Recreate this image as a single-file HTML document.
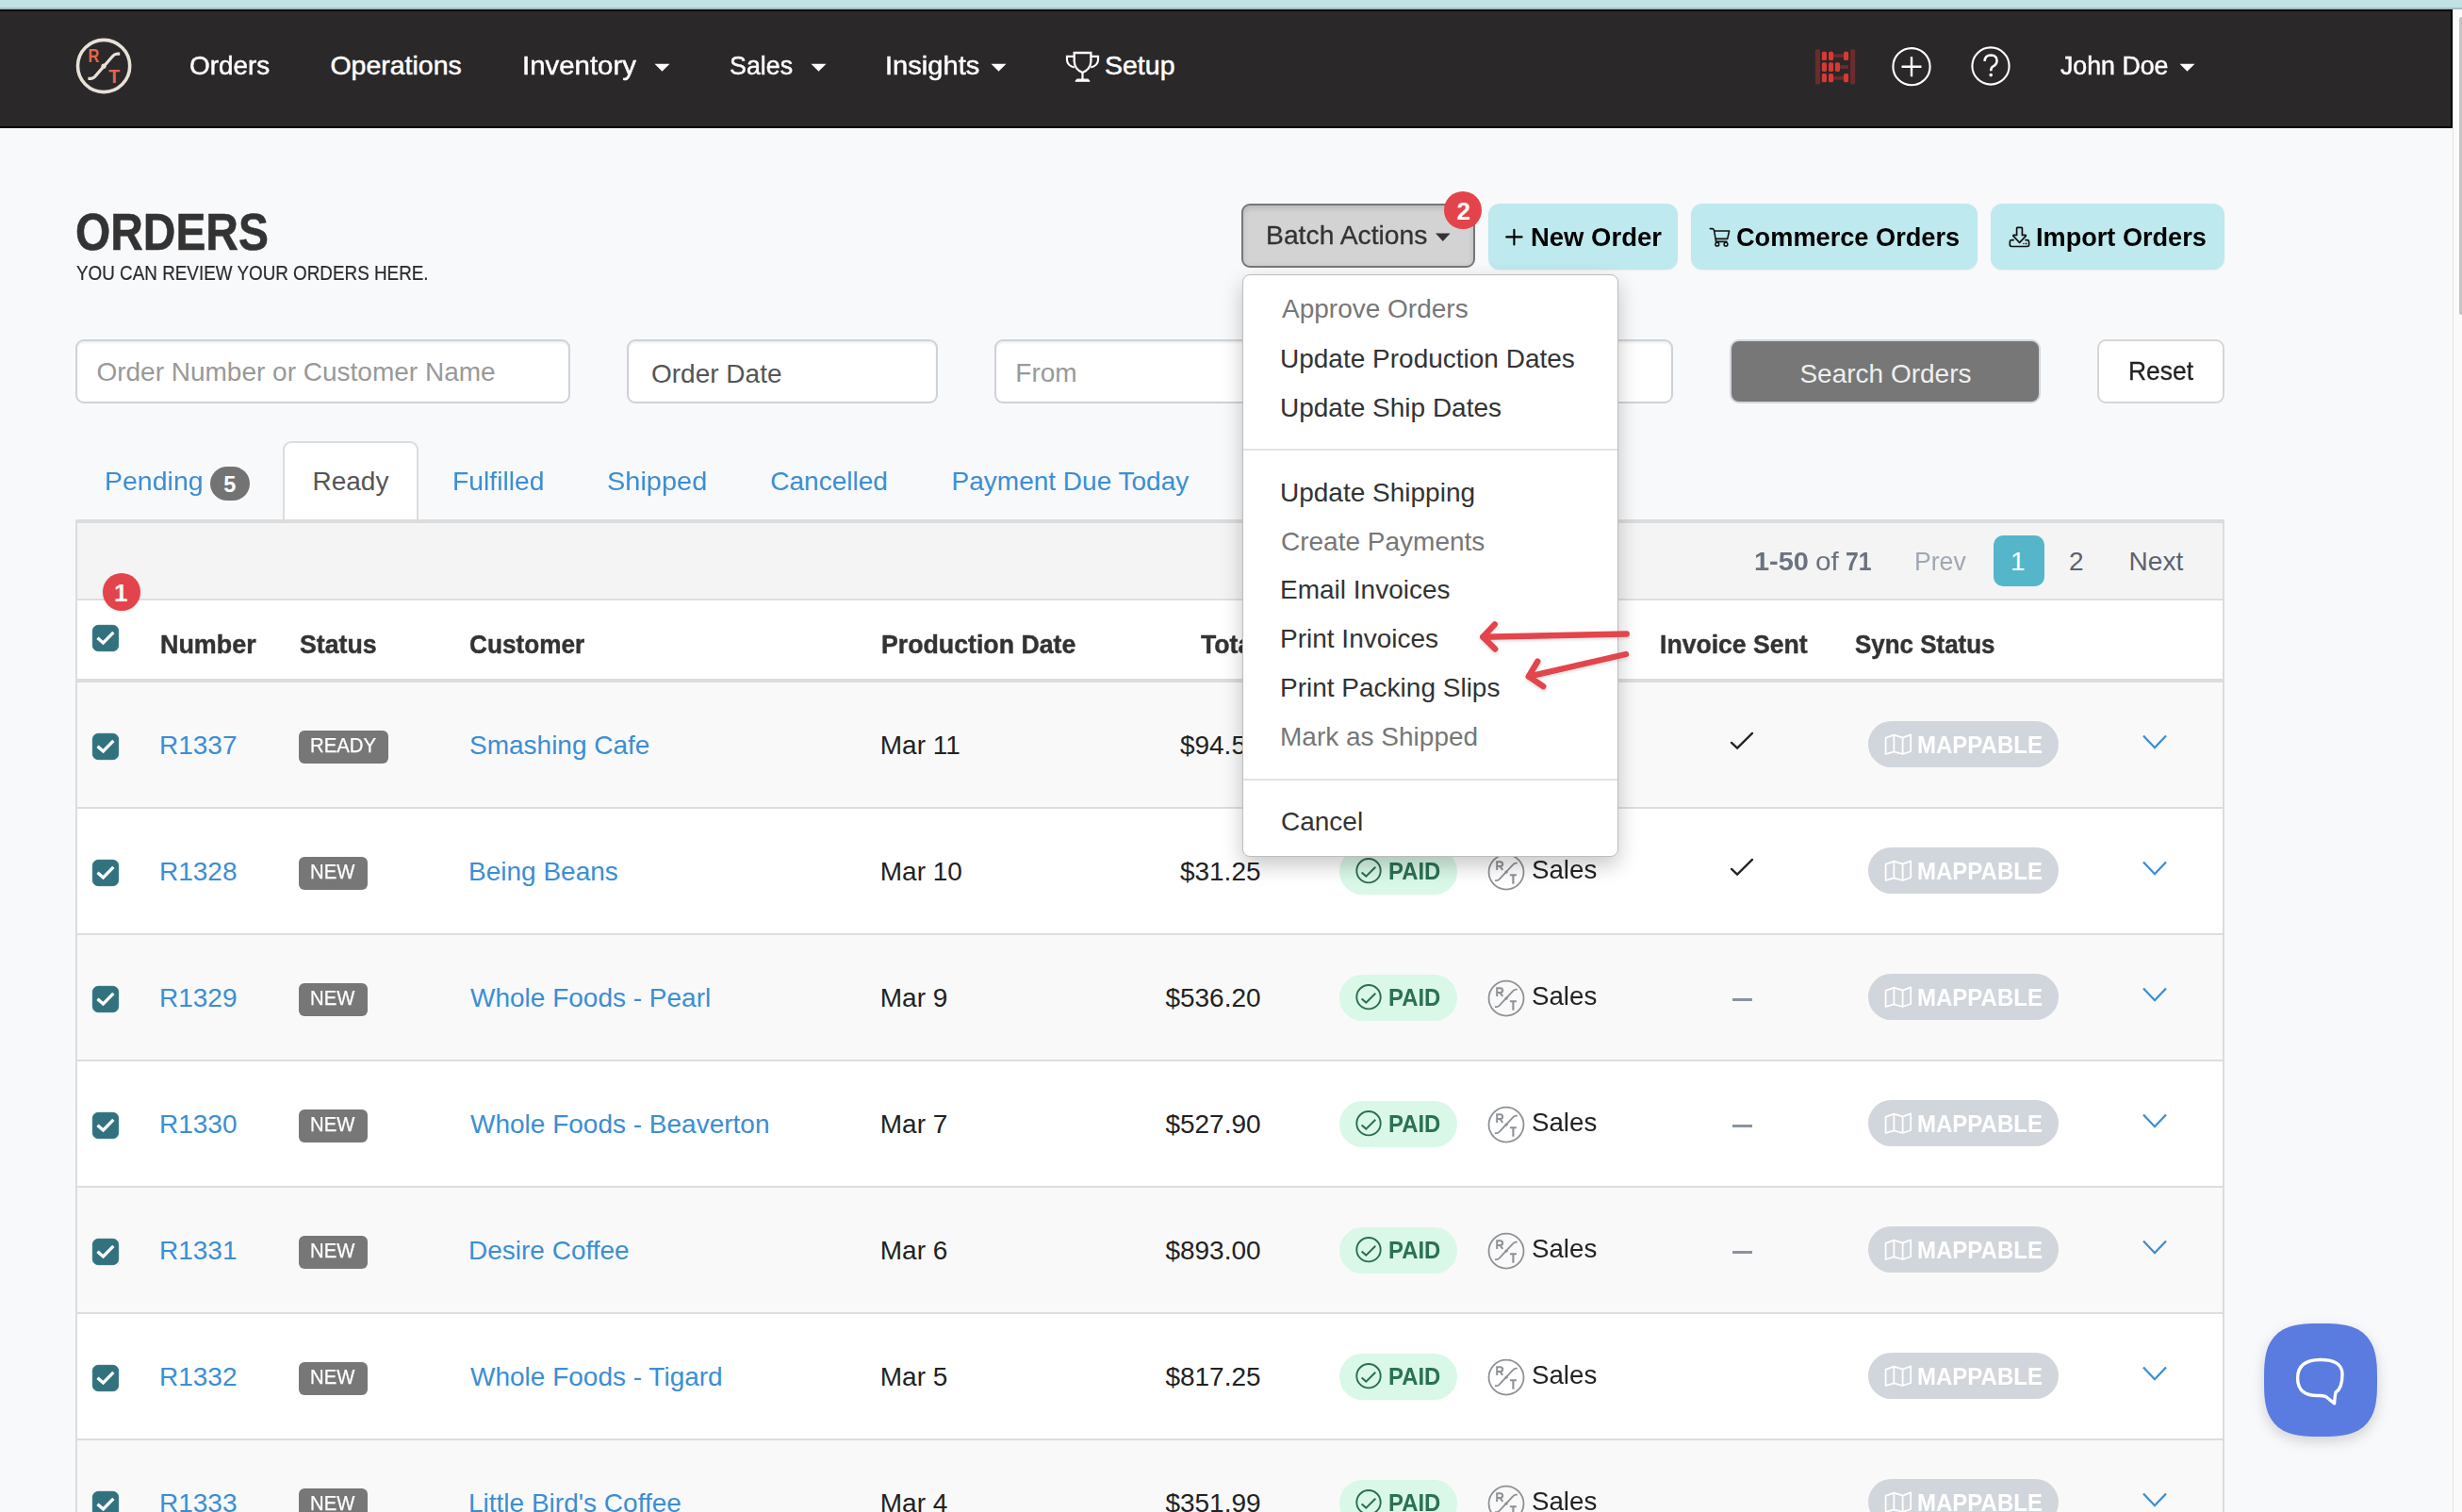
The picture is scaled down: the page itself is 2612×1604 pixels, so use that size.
<!DOCTYPE html>
<html><head><meta charset="utf-8"><title>Orders</title>
<style>
html,body{margin:0;padding:0;}
body{width:2612px;height:1604px;overflow:hidden;position:relative;background:#f8f9fb;font-family:"Liberation Sans",sans-serif;}
.t{position:absolute;white-space:nowrap;line-height:1;font-family:"Liberation Sans",sans-serif;}
.a{position:absolute;box-sizing:border-box;}
</style></head><body>
<div class="a" style="left:0;top:0;width:2612px;height:10px;background:#c1e2e5;border-bottom:2px solid #a3bbbe;"></div>
<div class="a" style="left:0;top:10px;width:2602px;height:126px;background:#2a2829;border-top:2px solid #050505;border-bottom:2px solid #050505;border-right:2px solid #050505;"></div>
<div class="a" style="left:2602px;top:10px;width:10px;height:1594px;background:#fafafa;border-left:1px solid #e2e2e2;"></div>
<div class="a" style="left:2609px;top:18px;width:5px;height:316px;background:#c3c3c3;border-radius:3px;"></div>
<svg class="a" style="left:78px;top:38px" width="64" height="64" viewBox="78 38 64 64">
      <circle cx="110.1" cy="70" r="27.6" fill="none" stroke="#e7e1d7" stroke-width="3.6"/>
      <path d="M93.4 83.3 H96.6 Q98.8 83.3 100.6 81.4 L119.4 59.8 Q121.4 57.4 124.2 57.2 H127.2" fill="none" stroke="#e7e1d7" stroke-width="3.2" stroke-linecap="butt"/>
      <circle cx="110" cy="70.2" r="2.6" fill="#e7e1d7"/>
      <text x="0" y="0" transform="translate(93.6 66) scale(0.84 1)" font-family="Liberation Sans" font-weight="700" font-size="19.5" fill="#e0674c">R</text>
      <text x="115.2" y="87.8" font-family="Liberation Sans" font-weight="700" font-size="19.5" fill="#e0674c">T</text>
    </svg>
<svg class="a" style="left:694px;top:67px" width="17" height="10" viewBox="0 0 17 10"><path d="M0.5 0.8 H16.5 L8.5 8.8 Z" fill="#fff"/></svg>
<svg class="a" style="left:860px;top:67px" width="17" height="10" viewBox="0 0 17 10"><path d="M0.5 0.8 H16.5 L8.5 8.8 Z" fill="#fff"/></svg>
<svg class="a" style="left:1051px;top:67px" width="17" height="10" viewBox="0 0 17 10"><path d="M0.5 0.8 H16.5 L8.5 8.8 Z" fill="#fff"/></svg>
<svg class="a" style="left:2311.5px;top:67px" width="17" height="10" viewBox="0 0 17 10"><path d="M0.5 0.8 H16.5 L8.5 8.8 Z" fill="#fff"/></svg>
<svg class="a" style="left:1128px;top:52px" width="40" height="38" viewBox="1128 52 40 38">
      <path d="M1139.7 56 H1157.4 V65 Q1157 73.5 1148.5 77 Q1140 73.5 1139.7 65 Z" fill="none" stroke="#fff" stroke-width="2.3" stroke-linejoin="miter"/>
      <path d="M1139.7 59.8 H1132 V64 Q1132.6 69.8 1139.8 71.5" fill="none" stroke="#fff" stroke-width="2.2"/>
      <path d="M1157.4 59.8 H1165 V64 Q1164.4 69.8 1157.2 71.5" fill="none" stroke="#fff" stroke-width="2.2"/>
      <path d="M1148.5 77 V84.5" fill="none" stroke="#fff" stroke-width="2.2"/>
      <path d="M1141.2 86.2 L1142.8 84.2 H1154.2 L1155.8 86.2 Z" fill="#fff" stroke="#fff" stroke-width="1.2" stroke-linejoin="round"/>
    </svg>
<svg class="a" style="left:1924px;top:50px" width="46" height="42" viewBox="1924 50 46 42">
      <rect x="1925.9" y="52.2" width="5.1" height="37.4" rx="1.5" fill="#6a2c2c"/>
      <rect x="1963.1" y="52.2" width="5.1" height="37.4" rx="1.5" fill="#6a2c2c"/>
      <rect x="1945" y="57.3" width="11" height="3.8" fill="#6a2c2c"/>
      <rect x="1952" y="69.1" width="9" height="3.8" fill="#6a2c2c"/>
      <rect x="1945" y="80.9" width="11" height="3.8" fill="#6a2c2c"/>
      <g fill="#d63a32">
        <rect x="1932.9" y="54.8" width="5.1" height="9.2" rx="1.6"/><rect x="1940" y="54.8" width="5.1" height="9.2" rx="1.6"/><rect x="1956" y="54.8" width="5.1" height="9.2" rx="1.6"/>
        <rect x="1932.9" y="66.3" width="5.1" height="9.6" rx="1.6"/><rect x="1940" y="66.3" width="5.1" height="9.6" rx="1.6"/><rect x="1946.9" y="66.3" width="5.1" height="9.6" rx="1.6"/>
        <rect x="1932.9" y="78" width="5.1" height="9.3" rx="1.6"/><rect x="1940" y="78" width="5.1" height="9.3" rx="1.6"/><rect x="1956" y="78" width="5.1" height="9.3" rx="1.6"/>
      </g>
    </svg>
<svg class="a" style="left:2004px;top:47px" width="48" height="48" viewBox="2004 47 48 48">
      <circle cx="2028" cy="70.7" r="19.6" fill="none" stroke="#fff" stroke-width="2.1"/>
      <path d="M2017.5 70.7 H2038.5 M2028 60.2 V81.2" stroke="#fff" stroke-width="2.4"/>
    </svg>
<svg class="a" style="left:2088px;top:46px" width="48" height="48" viewBox="2088 46 48 48">
      <circle cx="2112" cy="70" r="19.6" fill="none" stroke="#fff" stroke-width="2.1"/>
      <path d="M2105.6 65 Q2105.8 58.6 2112.2 58.6 Q2118.6 58.8 2118.6 64.6 Q2118.4 68.4 2114.2 70.6 Q2112.2 71.8 2112.2 75.2" fill="none" stroke="#fff" stroke-width="2.5"/>
      <circle cx="2112.2" cy="79.6" r="1.8" fill="#fff"/>
    </svg>
<div class="a" style="left:1317px;top:216px;width:248px;height:68px;background:#d3d3d3;border:2px solid #777;border-radius:9px;box-shadow:inset 0 3px 6px rgba(0,0,0,0.13);"></div>
<svg class="a" style="left:1522px;top:246px" width="18" height="12" viewBox="0 0 18 12"><path d="M1 1.5 H16.6 L8.8 10 Z" fill="#333"/></svg>
<div class="a" style="left:1532px;top:203px;width:40px;height:40px;background:#e3444b;border-radius:50%;"></div>
<div class="a" style="left:1579px;top:216px;width:201px;height:70px;background:#bee9ee;border-radius:12px;box-shadow:0 1px 2px rgba(0,0,0,0.05);"></div>
<div class="a" style="left:1794px;top:216px;width:304px;height:70px;background:#bee9ee;border-radius:12px;box-shadow:0 1px 2px rgba(0,0,0,0.05);"></div>
<div class="a" style="left:2112px;top:216px;width:248px;height:70px;background:#bee9ee;border-radius:12px;box-shadow:0 1px 2px rgba(0,0,0,0.05);"></div>
<svg class="a" style="left:1596px;top:242px" width="20" height="19" viewBox="1596 242 20 19"><path d="M1598.2 251.4 H1614.6 M1606.4 243.8 V259.4" stroke="#000" stroke-width="2.1" stroke-linecap="round"/></svg>
<svg class="a" style="left:1812px;top:240px" width="26" height="24" viewBox="1812 240 26 24">
      <path d="M1814.3 242.6 H1816.8 Q1818 242.8 1818.5 244.2 L1820.6 256.4 H1831.8" fill="none" stroke="#111" stroke-width="1.6" stroke-linejoin="round" stroke-linecap="round"/>
      <path d="M1818.8 245 H1834.6 L1832.7 253.4 H1820.2" fill="none" stroke="#111" stroke-width="1.6" stroke-linejoin="round"/>
      <circle cx="1821.8" cy="259.2" r="1.9" fill="none" stroke="#111" stroke-width="1.5"/>
      <circle cx="1831" cy="259.2" r="1.9" fill="none" stroke="#111" stroke-width="1.5"/>
    </svg>
<svg class="a" style="left:2130px;top:239px" width="25" height="25" viewBox="2130 239 25 25">
      <path d="M2136.8 254.7 H2134.3 Q2132.3 254.8 2132.3 256.8 V259.6 Q2132.3 261.5 2134.3 261.5 H2150.6 Q2152.6 261.5 2152.6 259.6 V256.8 Q2152.6 254.8 2150.6 254.7 H2148.4" fill="none" stroke="#111" stroke-width="1.7"/>
      <path d="M2140.2 241.3 H2144.8 Q2145.3 241.4 2145.4 242 V249.4 H2149 Q2149.6 249.8 2149.2 250.4 L2142.6 257.4 L2136 250.4 Q2135.6 249.8 2136.2 249.4 H2139.6 V242 Q2139.7 241.4 2140.2 241.3 Z" fill="none" stroke="#111" stroke-width="1.7" stroke-linejoin="round"/>
      <circle cx="2146.9" cy="258.5" r="0.8" fill="#111"/><circle cx="2149.5" cy="258.5" r="0.9" fill="#111"/>
    </svg>
<div class="a" style="left:80px;top:360px;width:525px;height:68px;background:#fff;border:2px solid #cfd2d8;border-radius:9px;box-shadow:inset 0 2px 2px rgba(0,0,0,0.06);"></div>
<div class="a" style="left:665px;top:360px;width:330px;height:68px;background:#fff;border:2px solid #cfd2d8;border-radius:9px;box-shadow:inset 0 2px 2px rgba(0,0,0,0.06);"></div>
<div class="a" style="left:1055px;top:360px;width:720px;height:68px;background:#fff;border:2px solid #cfd2d8;border-radius:9px;box-shadow:inset 0 2px 2px rgba(0,0,0,0.06);"></div>
<div class="a" style="left:1835px;top:360px;width:330px;height:68px;background:#777;border:2px solid #d3d6dc;border-radius:10px;"></div>
<div class="a" style="left:2225px;top:360px;width:135px;height:68px;background:#fff;border:2px solid #d6d6d6;border-radius:9px;"></div>
<div class="a" style="left:222.5px;top:495px;width:42px;height:36px;background:#737373;border-radius:18px;"></div>
<div class="a" style="left:300px;top:468px;width:144px;height:86px;background:#fff;border:2px solid #dcdcdc;border-bottom:none;border-radius:9px 9px 0 0;"></div>
<div class="a" style="left:80px;top:551px;width:2280px;height:1100px;background:#fff;border:2px solid #dcdcdc;border-top:4px solid #dcdcdc;"></div>
<div class="a" style="left:82px;top:555px;width:2276px;height:82px;background:#f4f4f4;border-bottom:2px solid #dedede;"></div>
<div class="a" style="left:82px;top:720px;width:2276px;height:4px;background:#dcdcdc;"></div>
<div class="a" style="left:82px;top:724px;width:2276px;height:134px;background:#f9f9f9;border-bottom:2px solid #dddddd;"></div>
<div class="a" style="left:82px;top:858px;width:2276px;height:134px;background:#ffffff;border-bottom:2px solid #dddddd;"></div>
<div class="a" style="left:82px;top:992px;width:2276px;height:134px;background:#f9f9f9;border-bottom:2px solid #dddddd;"></div>
<div class="a" style="left:82px;top:1126px;width:2276px;height:134px;background:#ffffff;border-bottom:2px solid #dddddd;"></div>
<div class="a" style="left:82px;top:1260px;width:2276px;height:134px;background:#f9f9f9;border-bottom:2px solid #dddddd;"></div>
<div class="a" style="left:82px;top:1394px;width:2276px;height:134px;background:#ffffff;border-bottom:2px solid #dddddd;"></div>
<div class="a" style="left:82px;top:1528px;width:2276px;height:134px;background:#f9f9f9;border-bottom:2px solid #dddddd;"></div>
<div class="a" style="left:2114.5px;top:568px;width:54px;height:54px;background:#56b6c9;border-radius:10px;"></div>
<svg class="a" style="left:97px;top:662px" width="30" height="30" viewBox="97 662 30 30"><rect x="98.3" y="663.3" width="27.4" height="27.4" rx="6" fill="#32727f" stroke="#276a77" stroke-width="0.8"/><path d="M104.7 677.8 L109.5 681.9 L119.2 672.1" fill="none" stroke="#fff" stroke-width="3.3" stroke-linecap="square"/></svg>
<div class="a" style="left:108.8px;top:608.4px;width:40px;height:40px;background:#e3444b;border-radius:50%;box-shadow:0 1px 3px rgba(0,0,0,0.12);"></div>
<svg class="a" style="left:97px;top:777px" width="30" height="30" viewBox="97 777 30 30"><rect x="98.3" y="778.3" width="27.4" height="27.4" rx="6" fill="#32727f" stroke="#276a77" stroke-width="0.8"/><path d="M104.7 792.8 L109.5 796.9 L119.2 787.1" fill="none" stroke="#fff" stroke-width="3.3" stroke-linecap="square"/></svg>
<div class="a" style="left:317px;top:775px;width:95px;height:35px;background:#777;border-radius:6px;"></div>
<div class="a" style="left:1421px;top:765.5px;width:125px;height:49px;background:#d9f8e7;border-radius:25px;"></div>
<svg class="a" style="left:1436px;top:774px" width="32" height="32" viewBox="1436 774 32 32">
          <circle cx="1452" cy="789.7" r="12.7" fill="none" stroke="#2b6e4f" stroke-width="1.9"/>
          <path d="M1444.6 791.4 L1449.3 795.6 L1459.3 785.75" fill="none" stroke="#2b6e4f" stroke-width="2"/>
        </svg>
<svg class="a" style="left:1574px;top:767px" width="48" height="48" viewBox="0 0 48 48">
          <circle cx="24" cy="24.1" r="18.5" fill="none" stroke="#8e9196" stroke-width="1.8"/>
          <path d="M12 33.2 H13.8 Q15.4 33.1 16.8 31.7 L30.6 16.9 Q32.3 14.9 34.4 14.7 H35.8" fill="none" stroke="#8e9196" stroke-width="1.8"/>
          <circle cx="24.1" cy="24.1" r="1.7" fill="#8e9196"/>
          <path d="M14.2 21.9 V13.2 H17.6 Q20.2 13.3 20.2 15.6 Q20.1 17.9 17.6 17.9 H14.2 M17.2 17.9 L20.3 21.9" fill="none" stroke="#8e9196" stroke-width="2"/>
          <path d="M27.9 27.3 H34.9 M31.4 27.3 V36.8" fill="none" stroke="#8e9196" stroke-width="2.1"/>
        </svg>
<svg class="a" style="left:1832px;top:775px" width="32" height="22" viewBox="1832 775 32 22"><path d="M1837 787.9 L1843.1 793.6 L1859 777.9" fill="none" stroke="#222" stroke-width="2.3" stroke-linecap="round"/></svg>
<div class="a" style="left:1982px;top:765.2px;width:202px;height:49px;background:#d1d5dc;border-radius:25px;"></div>
<svg class="a" style="left:1998px;top:776px" width="32" height="28" viewBox="1998 776 32 28">
          <path d="M2000.6 782.9 L2009.35 779.6 L2018.6 782.6 L2027.2 779.4 V797 L2018.6 800 L2009.35 797.3 L2000.6 800 Z M2009.35 779.6 V797.3 M2018.6 782.6 V800" fill="none" stroke="#fff" stroke-width="1.8" stroke-linejoin="round"/>
        </svg>
<svg class="a" style="left:2271px;top:778px" width="30" height="18" viewBox="2271 778 30 18"><path d="M2274 780.5 L2286 793.2 L2298 780.5" fill="none" stroke="#3b8ed5" stroke-width="2.3"/></svg>
<svg class="a" style="left:97px;top:911px" width="30" height="30" viewBox="97 911 30 30"><rect x="98.3" y="912.3" width="27.4" height="27.4" rx="6" fill="#32727f" stroke="#276a77" stroke-width="0.8"/><path d="M104.7 926.8 L109.5 930.9 L119.2 921.1" fill="none" stroke="#fff" stroke-width="3.3" stroke-linecap="square"/></svg>
<div class="a" style="left:317px;top:909px;width:73px;height:35px;background:#777;border-radius:6px;"></div>
<div class="a" style="left:1421px;top:899.5px;width:125px;height:49px;background:#d9f8e7;border-radius:25px;"></div>
<svg class="a" style="left:1436px;top:908px" width="32" height="32" viewBox="1436 908 32 32">
          <circle cx="1452" cy="923.7" r="12.7" fill="none" stroke="#2b6e4f" stroke-width="1.9"/>
          <path d="M1444.6 925.4 L1449.3 929.6 L1459.3 919.75" fill="none" stroke="#2b6e4f" stroke-width="2"/>
        </svg>
<svg class="a" style="left:1574px;top:901px" width="48" height="48" viewBox="0 0 48 48">
          <circle cx="24" cy="24.1" r="18.5" fill="none" stroke="#8e9196" stroke-width="1.8"/>
          <path d="M12 33.2 H13.8 Q15.4 33.1 16.8 31.7 L30.6 16.9 Q32.3 14.9 34.4 14.7 H35.8" fill="none" stroke="#8e9196" stroke-width="1.8"/>
          <circle cx="24.1" cy="24.1" r="1.7" fill="#8e9196"/>
          <path d="M14.2 21.9 V13.2 H17.6 Q20.2 13.3 20.2 15.6 Q20.1 17.9 17.6 17.9 H14.2 M17.2 17.9 L20.3 21.9" fill="none" stroke="#8e9196" stroke-width="2"/>
          <path d="M27.9 27.3 H34.9 M31.4 27.3 V36.8" fill="none" stroke="#8e9196" stroke-width="2.1"/>
        </svg>
<svg class="a" style="left:1832px;top:909px" width="32" height="22" viewBox="1832 909 32 22"><path d="M1837 921.9 L1843.1 927.6 L1859 911.9" fill="none" stroke="#222" stroke-width="2.3" stroke-linecap="round"/></svg>
<div class="a" style="left:1982px;top:899.2px;width:202px;height:49px;background:#d1d5dc;border-radius:25px;"></div>
<svg class="a" style="left:1998px;top:910px" width="32" height="28" viewBox="1998 910 32 28">
          <path d="M2000.6 916.9 L2009.35 913.6 L2018.6 916.6 L2027.2 913.4 V931 L2018.6 934 L2009.35 931.3 L2000.6 934 Z M2009.35 913.6 V931.3 M2018.6 916.6 V934" fill="none" stroke="#fff" stroke-width="1.8" stroke-linejoin="round"/>
        </svg>
<svg class="a" style="left:2271px;top:912px" width="30" height="18" viewBox="2271 912 30 18"><path d="M2274 914.5 L2286 927.2 L2298 914.5" fill="none" stroke="#3b8ed5" stroke-width="2.3"/></svg>
<svg class="a" style="left:97px;top:1045px" width="30" height="30" viewBox="97 1045 30 30"><rect x="98.3" y="1046.3" width="27.4" height="27.4" rx="6" fill="#32727f" stroke="#276a77" stroke-width="0.8"/><path d="M104.7 1060.8 L109.5 1064.9 L119.2 1055.1" fill="none" stroke="#fff" stroke-width="3.3" stroke-linecap="square"/></svg>
<div class="a" style="left:317px;top:1043px;width:73px;height:35px;background:#777;border-radius:6px;"></div>
<div class="a" style="left:1421px;top:1033.5px;width:125px;height:49px;background:#d9f8e7;border-radius:25px;"></div>
<svg class="a" style="left:1436px;top:1042px" width="32" height="32" viewBox="1436 1042 32 32">
          <circle cx="1452" cy="1057.7" r="12.7" fill="none" stroke="#2b6e4f" stroke-width="1.9"/>
          <path d="M1444.6 1059.4 L1449.3 1063.6 L1459.3 1053.75" fill="none" stroke="#2b6e4f" stroke-width="2"/>
        </svg>
<svg class="a" style="left:1574px;top:1035px" width="48" height="48" viewBox="0 0 48 48">
          <circle cx="24" cy="24.1" r="18.5" fill="none" stroke="#8e9196" stroke-width="1.8"/>
          <path d="M12 33.2 H13.8 Q15.4 33.1 16.8 31.7 L30.6 16.9 Q32.3 14.9 34.4 14.7 H35.8" fill="none" stroke="#8e9196" stroke-width="1.8"/>
          <circle cx="24.1" cy="24.1" r="1.7" fill="#8e9196"/>
          <path d="M14.2 21.9 V13.2 H17.6 Q20.2 13.3 20.2 15.6 Q20.1 17.9 17.6 17.9 H14.2 M17.2 17.9 L20.3 21.9" fill="none" stroke="#8e9196" stroke-width="2"/>
          <path d="M27.9 27.3 H34.9 M31.4 27.3 V36.8" fill="none" stroke="#8e9196" stroke-width="2.1"/>
        </svg>
<div class="a" style="left:1837.5px;top:1058.7px;width:21.5px;height:3px;background:#8b93a1;"></div>
<div class="a" style="left:1982px;top:1033.2px;width:202px;height:49px;background:#d1d5dc;border-radius:25px;"></div>
<svg class="a" style="left:1998px;top:1044px" width="32" height="28" viewBox="1998 1044 32 28">
          <path d="M2000.6 1050.9 L2009.35 1047.6 L2018.6 1050.6 L2027.2 1047.4 V1065 L2018.6 1068 L2009.35 1065.3 L2000.6 1068 Z M2009.35 1047.6 V1065.3 M2018.6 1050.6 V1068" fill="none" stroke="#fff" stroke-width="1.8" stroke-linejoin="round"/>
        </svg>
<svg class="a" style="left:2271px;top:1046px" width="30" height="18" viewBox="2271 1046 30 18"><path d="M2274 1048.5 L2286 1061.2 L2298 1048.5" fill="none" stroke="#3b8ed5" stroke-width="2.3"/></svg>
<svg class="a" style="left:97px;top:1179px" width="30" height="30" viewBox="97 1179 30 30"><rect x="98.3" y="1180.3" width="27.4" height="27.4" rx="6" fill="#32727f" stroke="#276a77" stroke-width="0.8"/><path d="M104.7 1194.8 L109.5 1198.9 L119.2 1189.1" fill="none" stroke="#fff" stroke-width="3.3" stroke-linecap="square"/></svg>
<div class="a" style="left:317px;top:1177px;width:73px;height:35px;background:#777;border-radius:6px;"></div>
<div class="a" style="left:1421px;top:1167.5px;width:125px;height:49px;background:#d9f8e7;border-radius:25px;"></div>
<svg class="a" style="left:1436px;top:1176px" width="32" height="32" viewBox="1436 1176 32 32">
          <circle cx="1452" cy="1191.7" r="12.7" fill="none" stroke="#2b6e4f" stroke-width="1.9"/>
          <path d="M1444.6 1193.4 L1449.3 1197.6 L1459.3 1187.75" fill="none" stroke="#2b6e4f" stroke-width="2"/>
        </svg>
<svg class="a" style="left:1574px;top:1169px" width="48" height="48" viewBox="0 0 48 48">
          <circle cx="24" cy="24.1" r="18.5" fill="none" stroke="#8e9196" stroke-width="1.8"/>
          <path d="M12 33.2 H13.8 Q15.4 33.1 16.8 31.7 L30.6 16.9 Q32.3 14.9 34.4 14.7 H35.8" fill="none" stroke="#8e9196" stroke-width="1.8"/>
          <circle cx="24.1" cy="24.1" r="1.7" fill="#8e9196"/>
          <path d="M14.2 21.9 V13.2 H17.6 Q20.2 13.3 20.2 15.6 Q20.1 17.9 17.6 17.9 H14.2 M17.2 17.9 L20.3 21.9" fill="none" stroke="#8e9196" stroke-width="2"/>
          <path d="M27.9 27.3 H34.9 M31.4 27.3 V36.8" fill="none" stroke="#8e9196" stroke-width="2.1"/>
        </svg>
<div class="a" style="left:1837.5px;top:1192.7px;width:21.5px;height:3px;background:#8b93a1;"></div>
<div class="a" style="left:1982px;top:1167.2px;width:202px;height:49px;background:#d1d5dc;border-radius:25px;"></div>
<svg class="a" style="left:1998px;top:1178px" width="32" height="28" viewBox="1998 1178 32 28">
          <path d="M2000.6 1184.9 L2009.35 1181.6 L2018.6 1184.6 L2027.2 1181.4 V1199 L2018.6 1202 L2009.35 1199.3 L2000.6 1202 Z M2009.35 1181.6 V1199.3 M2018.6 1184.6 V1202" fill="none" stroke="#fff" stroke-width="1.8" stroke-linejoin="round"/>
        </svg>
<svg class="a" style="left:2271px;top:1180px" width="30" height="18" viewBox="2271 1180 30 18"><path d="M2274 1182.5 L2286 1195.2 L2298 1182.5" fill="none" stroke="#3b8ed5" stroke-width="2.3"/></svg>
<svg class="a" style="left:97px;top:1313px" width="30" height="30" viewBox="97 1313 30 30"><rect x="98.3" y="1314.3" width="27.4" height="27.4" rx="6" fill="#32727f" stroke="#276a77" stroke-width="0.8"/><path d="M104.7 1328.8 L109.5 1332.9 L119.2 1323.1" fill="none" stroke="#fff" stroke-width="3.3" stroke-linecap="square"/></svg>
<div class="a" style="left:317px;top:1311px;width:73px;height:35px;background:#777;border-radius:6px;"></div>
<div class="a" style="left:1421px;top:1301.5px;width:125px;height:49px;background:#d9f8e7;border-radius:25px;"></div>
<svg class="a" style="left:1436px;top:1310px" width="32" height="32" viewBox="1436 1310 32 32">
          <circle cx="1452" cy="1325.7" r="12.7" fill="none" stroke="#2b6e4f" stroke-width="1.9"/>
          <path d="M1444.6 1327.4 L1449.3 1331.6 L1459.3 1321.75" fill="none" stroke="#2b6e4f" stroke-width="2"/>
        </svg>
<svg class="a" style="left:1574px;top:1303px" width="48" height="48" viewBox="0 0 48 48">
          <circle cx="24" cy="24.1" r="18.5" fill="none" stroke="#8e9196" stroke-width="1.8"/>
          <path d="M12 33.2 H13.8 Q15.4 33.1 16.8 31.7 L30.6 16.9 Q32.3 14.9 34.4 14.7 H35.8" fill="none" stroke="#8e9196" stroke-width="1.8"/>
          <circle cx="24.1" cy="24.1" r="1.7" fill="#8e9196"/>
          <path d="M14.2 21.9 V13.2 H17.6 Q20.2 13.3 20.2 15.6 Q20.1 17.9 17.6 17.9 H14.2 M17.2 17.9 L20.3 21.9" fill="none" stroke="#8e9196" stroke-width="2"/>
          <path d="M27.9 27.3 H34.9 M31.4 27.3 V36.8" fill="none" stroke="#8e9196" stroke-width="2.1"/>
        </svg>
<div class="a" style="left:1837.5px;top:1326.7px;width:21.5px;height:3px;background:#8b93a1;"></div>
<div class="a" style="left:1982px;top:1301.2px;width:202px;height:49px;background:#d1d5dc;border-radius:25px;"></div>
<svg class="a" style="left:1998px;top:1312px" width="32" height="28" viewBox="1998 1312 32 28">
          <path d="M2000.6 1318.9 L2009.35 1315.6 L2018.6 1318.6 L2027.2 1315.4 V1333 L2018.6 1336 L2009.35 1333.3 L2000.6 1336 Z M2009.35 1315.6 V1333.3 M2018.6 1318.6 V1336" fill="none" stroke="#fff" stroke-width="1.8" stroke-linejoin="round"/>
        </svg>
<svg class="a" style="left:2271px;top:1314px" width="30" height="18" viewBox="2271 1314 30 18"><path d="M2274 1316.5 L2286 1329.2 L2298 1316.5" fill="none" stroke="#3b8ed5" stroke-width="2.3"/></svg>
<svg class="a" style="left:97px;top:1447px" width="30" height="30" viewBox="97 1447 30 30"><rect x="98.3" y="1448.3" width="27.4" height="27.4" rx="6" fill="#32727f" stroke="#276a77" stroke-width="0.8"/><path d="M104.7 1462.8 L109.5 1466.9 L119.2 1457.1" fill="none" stroke="#fff" stroke-width="3.3" stroke-linecap="square"/></svg>
<div class="a" style="left:317px;top:1445px;width:73px;height:35px;background:#777;border-radius:6px;"></div>
<div class="a" style="left:1421px;top:1435.5px;width:125px;height:49px;background:#d9f8e7;border-radius:25px;"></div>
<svg class="a" style="left:1436px;top:1444px" width="32" height="32" viewBox="1436 1444 32 32">
          <circle cx="1452" cy="1459.7" r="12.7" fill="none" stroke="#2b6e4f" stroke-width="1.9"/>
          <path d="M1444.6 1461.4 L1449.3 1465.6 L1459.3 1455.75" fill="none" stroke="#2b6e4f" stroke-width="2"/>
        </svg>
<svg class="a" style="left:1574px;top:1437px" width="48" height="48" viewBox="0 0 48 48">
          <circle cx="24" cy="24.1" r="18.5" fill="none" stroke="#8e9196" stroke-width="1.8"/>
          <path d="M12 33.2 H13.8 Q15.4 33.1 16.8 31.7 L30.6 16.9 Q32.3 14.9 34.4 14.7 H35.8" fill="none" stroke="#8e9196" stroke-width="1.8"/>
          <circle cx="24.1" cy="24.1" r="1.7" fill="#8e9196"/>
          <path d="M14.2 21.9 V13.2 H17.6 Q20.2 13.3 20.2 15.6 Q20.1 17.9 17.6 17.9 H14.2 M17.2 17.9 L20.3 21.9" fill="none" stroke="#8e9196" stroke-width="2"/>
          <path d="M27.9 27.3 H34.9 M31.4 27.3 V36.8" fill="none" stroke="#8e9196" stroke-width="2.1"/>
        </svg>
<div class="a" style="left:1982px;top:1435.2px;width:202px;height:49px;background:#d1d5dc;border-radius:25px;"></div>
<svg class="a" style="left:1998px;top:1446px" width="32" height="28" viewBox="1998 1446 32 28">
          <path d="M2000.6 1452.9 L2009.35 1449.6 L2018.6 1452.6 L2027.2 1449.4 V1467 L2018.6 1470 L2009.35 1467.3 L2000.6 1470 Z M2009.35 1449.6 V1467.3 M2018.6 1452.6 V1470" fill="none" stroke="#fff" stroke-width="1.8" stroke-linejoin="round"/>
        </svg>
<svg class="a" style="left:2271px;top:1448px" width="30" height="18" viewBox="2271 1448 30 18"><path d="M2274 1450.5 L2286 1463.2 L2298 1450.5" fill="none" stroke="#3b8ed5" stroke-width="2.3"/></svg>
<svg class="a" style="left:97px;top:1581px" width="30" height="30" viewBox="97 1581 30 30"><rect x="98.3" y="1582.3" width="27.4" height="27.4" rx="6" fill="#32727f" stroke="#276a77" stroke-width="0.8"/><path d="M104.7 1596.8 L109.5 1600.9 L119.2 1591.1" fill="none" stroke="#fff" stroke-width="3.3" stroke-linecap="square"/></svg>
<div class="a" style="left:317px;top:1579px;width:73px;height:35px;background:#777;border-radius:6px;"></div>
<div class="a" style="left:1421px;top:1569.5px;width:125px;height:49px;background:#d9f8e7;border-radius:25px;"></div>
<svg class="a" style="left:1436px;top:1578px" width="32" height="32" viewBox="1436 1578 32 32">
          <circle cx="1452" cy="1593.7" r="12.7" fill="none" stroke="#2b6e4f" stroke-width="1.9"/>
          <path d="M1444.6 1595.4 L1449.3 1599.6 L1459.3 1589.75" fill="none" stroke="#2b6e4f" stroke-width="2"/>
        </svg>
<svg class="a" style="left:1574px;top:1571px" width="48" height="48" viewBox="0 0 48 48">
          <circle cx="24" cy="24.1" r="18.5" fill="none" stroke="#8e9196" stroke-width="1.8"/>
          <path d="M12 33.2 H13.8 Q15.4 33.1 16.8 31.7 L30.6 16.9 Q32.3 14.9 34.4 14.7 H35.8" fill="none" stroke="#8e9196" stroke-width="1.8"/>
          <circle cx="24.1" cy="24.1" r="1.7" fill="#8e9196"/>
          <path d="M14.2 21.9 V13.2 H17.6 Q20.2 13.3 20.2 15.6 Q20.1 17.9 17.6 17.9 H14.2 M17.2 17.9 L20.3 21.9" fill="none" stroke="#8e9196" stroke-width="2"/>
          <path d="M27.9 27.3 H34.9 M31.4 27.3 V36.8" fill="none" stroke="#8e9196" stroke-width="2.1"/>
        </svg>
<div class="a" style="left:1982px;top:1569.2px;width:202px;height:49px;background:#d1d5dc;border-radius:25px;"></div>
<svg class="a" style="left:1998px;top:1580px" width="32" height="28" viewBox="1998 1580 32 28">
          <path d="M2000.6 1586.9 L2009.35 1583.6 L2018.6 1586.6 L2027.2 1583.4 V1601 L2018.6 1604 L2009.35 1601.3 L2000.6 1604 Z M2009.35 1583.6 V1601.3 M2018.6 1586.6 V1604" fill="none" stroke="#fff" stroke-width="1.8" stroke-linejoin="round"/>
        </svg>
<svg class="a" style="left:2271px;top:1582px" width="30" height="18" viewBox="2271 1582 30 18"><path d="M2274 1584.5 L2286 1597.2 L2298 1584.5" fill="none" stroke="#3b8ed5" stroke-width="2.3"/></svg>
<svg class="a" style="left:2382px;top:1384px" width="160" height="170" viewBox="2382 1384 160 170"><defs><filter id="csh" x="-30%" y="-30%" width="160%" height="170%"><feDropShadow dx="0" dy="5" stdDeviation="7" flood-opacity="0.16"/></filter></defs><path filter="url(#csh)" d="M2522.0 1464.0 L2521.9 1472.4 L2521.8 1477.3 L2521.5 1481.4 L2521.1 1485.1 L2520.6 1488.4 L2520.0 1491.4 L2519.3 1494.3 L2518.5 1496.9 L2517.6 1499.4 L2516.5 1501.8 L2515.4 1504.0 L2514.1 1506.1 L2512.7 1508.1 L2511.2 1509.9 L2509.6 1511.6 L2507.9 1513.2 L2506.1 1514.7 L2504.1 1516.1 L2502.0 1517.4 L2499.8 1518.5 L2497.4 1519.6 L2494.9 1520.5 L2492.3 1521.3 L2489.4 1522.0 L2486.4 1522.6 L2483.1 1523.1 L2479.4 1523.5 L2475.3 1523.8 L2470.4 1523.9 L2462.0 1524.0 L2453.6 1523.9 L2448.7 1523.8 L2444.6 1523.5 L2440.9 1523.1 L2437.6 1522.6 L2434.6 1522.0 L2431.7 1521.3 L2429.1 1520.5 L2426.6 1519.6 L2424.2 1518.5 L2422.0 1517.4 L2419.9 1516.1 L2417.9 1514.7 L2416.1 1513.2 L2414.4 1511.6 L2412.8 1509.9 L2411.3 1508.1 L2409.9 1506.1 L2408.6 1504.0 L2407.5 1501.8 L2406.4 1499.4 L2405.5 1496.9 L2404.7 1494.3 L2404.0 1491.4 L2403.4 1488.4 L2402.9 1485.1 L2402.5 1481.4 L2402.2 1477.3 L2402.1 1472.4 L2402.0 1464.0 L2402.1 1455.6 L2402.2 1450.7 L2402.5 1446.6 L2402.9 1442.9 L2403.4 1439.6 L2404.0 1436.6 L2404.7 1433.7 L2405.5 1431.1 L2406.4 1428.6 L2407.5 1426.2 L2408.6 1424.0 L2409.9 1421.9 L2411.3 1419.9 L2412.8 1418.1 L2414.4 1416.4 L2416.1 1414.8 L2417.9 1413.3 L2419.9 1411.9 L2422.0 1410.6 L2424.2 1409.5 L2426.6 1408.4 L2429.1 1407.5 L2431.7 1406.7 L2434.6 1406.0 L2437.6 1405.4 L2440.9 1404.9 L2444.6 1404.5 L2448.7 1404.2 L2453.6 1404.1 L2462.0 1404.0 L2470.4 1404.1 L2475.3 1404.2 L2479.4 1404.5 L2483.1 1404.9 L2486.4 1405.4 L2489.4 1406.0 L2492.3 1406.7 L2494.9 1407.5 L2497.4 1408.4 L2499.8 1409.5 L2502.0 1410.6 L2504.1 1411.9 L2506.1 1413.3 L2507.9 1414.8 L2509.6 1416.4 L2511.2 1418.1 L2512.7 1419.9 L2514.1 1421.9 L2515.4 1424.0 L2516.5 1426.2 L2517.6 1428.6 L2518.5 1431.1 L2519.3 1433.7 L2520.0 1436.6 L2520.6 1439.6 L2521.1 1442.9 L2521.5 1446.6 L2521.8 1450.7 L2521.9 1455.6 Z" fill="#5a7be1"/></svg>
<svg class="a" style="left:2430px;top:1436px" width="62" height="60" viewBox="2430 1436 62 60">
      <path d="M2461 1442.5 Q2485 1442 2485 1458 Q2485 1473 2478 1477 Q2477 1482 2476.6 1488.8 L2467.5 1481.5 Q2464 1480.5 2461 1480.5 Q2437.6 1481.5 2437.6 1462 Q2437.6 1442.8 2461 1442.5 Z" fill="none" stroke="#fff" stroke-width="3.4" stroke-linejoin="round"/>
    </svg>
<div class="t" style="left:201.4px;top:55.2px;font-size:28.5px;color:#ffffff;transform:scaleX(0.9796);transform-origin:0 0;-webkit-text-stroke:0.5px #fff;">Orders</div>
<div class="t" style="left:350.4px;top:55.2px;font-size:28.5px;color:#ffffff;-webkit-text-stroke:0.5px #fff;">Operations</div>
<div class="t" style="left:553.9px;top:55.2px;font-size:28.5px;color:#ffffff;transform:scaleX(1.0312);transform-origin:0 0;-webkit-text-stroke:0.5px #fff;">Inventory</div>
<div class="t" style="left:773.7px;top:55.2px;font-size:28.5px;color:#ffffff;transform:scaleX(0.9409);transform-origin:0 0;-webkit-text-stroke:0.5px #fff;">Sales</div>
<div class="t" style="left:939.0px;top:55.2px;font-size:28.5px;color:#ffffff;transform:scaleX(1.0212);transform-origin:0 0;-webkit-text-stroke:0.5px #fff;">Insights</div>
<div class="t" style="left:1172.0px;top:55.2px;font-size:28.5px;color:#ffffff;-webkit-text-stroke:0.5px #fff;">Setup</div>
<div class="t" style="left:2186.0px;top:55.0px;font-size:28.5px;color:#ffffff;transform:scaleX(0.9385);transform-origin:0 0;-webkit-text-stroke:0.5px #fff;">John Doe</div>
<div class="t" style="left:79.7px;top:218.2px;font-size:56px;font-weight:700;color:#333;transform:scaleX(0.8551);transform-origin:0 0;-webkit-text-stroke:0.6px #333;">ORDERS</div>
<div class="t" style="left:81.0px;top:278.9px;font-size:22px;color:#2b2b2b;transform:scaleX(0.8569);transform-origin:0 0;-webkit-text-stroke:0.2px #2b2b2b;">YOU CAN REVIEW YOUR ORDERS HERE.</div>
<div class="t" style="left:1342.7px;top:235.8px;font-size:28px;color:#333;transform:scaleX(1.0107);transform-origin:0 0;-webkit-text-stroke:0.3px #333;">Batch Actions</div>
<div class="t" style="left:1624.0px;top:237.8px;font-size:28px;font-weight:700;color:#000;transform:scaleX(0.9808);transform-origin:0 0;">New Order</div>
<div class="t" style="left:1842.0px;top:237.5px;font-size:28px;font-weight:700;color:#000;transform:scaleX(0.9705);transform-origin:0 0;">Commerce Orders</div>
<div class="t" style="left:2159.7px;top:237.5px;font-size:28px;font-weight:700;color:#000;transform:scaleX(0.9685);transform-origin:0 0;">Import Orders</div>
<div class="t" style="left:102.4px;top:381.4px;font-size:28px;color:#999;">Order Number or Customer Name</div>
<div class="t" style="left:691.0px;top:382.8px;font-size:28px;color:#555;">Order Date</div>
<div class="t" style="left:1077.3px;top:381.6px;font-size:28px;color:#999;">From</div>
<div class="t" style="left:1909.4px;top:382.8px;font-size:28px;color:#efefef;">Search Orders</div>
<div class="t" style="left:2257.7px;top:379.8px;font-size:28px;color:#222;transform:scaleX(0.9444);transform-origin:0 0;-webkit-text-stroke:0.3px #222;">Reset</div>
<div class="t" style="left:111.0px;top:497.0px;font-size:28px;color:#3b8ed5;transform:scaleX(1.0183);transform-origin:0 0;">Pending</div>
<div class="t" style="left:331.5px;top:497.0px;font-size:28px;color:#555;">Ready</div>
<div class="t" style="left:479.6px;top:497.0px;font-size:28px;color:#3b8ed5;transform:scaleX(1.0107);transform-origin:0 0;">Fulfilled</div>
<div class="t" style="left:644.0px;top:497.0px;font-size:28px;color:#3b8ed5;transform:scaleX(1.0341);transform-origin:0 0;">Shipped</div>
<div class="t" style="left:817.3px;top:497.0px;font-size:28px;color:#3b8ed5;">Cancelled</div>
<div class="t" style="left:1009.6px;top:497.0px;font-size:28px;color:#3b8ed5;">Payment Due Today</div>
<div class="t" style="left:170.0px;top:669.8px;font-size:28px;font-weight:700;color:#333;transform:scaleX(0.9609);transform-origin:0 0;-webkit-text-stroke:0.45px #333;">Number</div>
<div class="t" style="left:317.9px;top:669.8px;font-size:28px;font-weight:700;color:#333;transform:scaleX(0.9541);transform-origin:0 0;-webkit-text-stroke:0.45px #333;">Status</div>
<div class="t" style="left:498.1px;top:669.8px;font-size:28px;font-weight:700;color:#333;transform:scaleX(0.9346);transform-origin:0 0;-webkit-text-stroke:0.45px #333;">Customer</div>
<div class="t" style="left:934.5px;top:669.8px;font-size:28px;font-weight:700;color:#333;transform:scaleX(0.9541);transform-origin:0 0;-webkit-text-stroke:0.45px #333;">Production Date</div>
<div class="t" style="left:1274.3px;top:669.8px;font-size:28px;font-weight:700;color:#333;transform:scaleX(0.9520);transform-origin:0 0;-webkit-text-stroke:0.45px #333;">Total</div>
<div class="t" style="left:1760.6px;top:669.8px;font-size:28px;font-weight:700;color:#333;transform:scaleX(0.9498);transform-origin:0 0;-webkit-text-stroke:0.45px #333;">Invoice Sent</div>
<div class="t" style="left:1968.0px;top:669.8px;font-size:28px;font-weight:700;color:#333;transform:scaleX(0.9267);transform-origin:0 0;-webkit-text-stroke:0.45px #333;">Sync Status</div>
<div class="t" style="left:169.0px;top:776.8px;font-size:28px;color:#3b8ed5;">R1337</div>
<div class="t" style="left:498.0px;top:776.8px;font-size:28px;color:#3b8ed5;">Smashing Cafe</div>
<div class="t" style="left:933.8px;top:776.8px;font-size:28px;color:#222;">Mar 11</div>
<div class="t" style="left:1251.9px;top:776.8px;font-size:28px;color:#222;">$94.50</div>
<div class="t" style="left:1473.4px;top:777.8px;font-size:25px;font-weight:700;color:#2b7155;transform:scaleX(0.9549);transform-origin:0 0;">PAID</div>
<div class="t" style="left:1625.3px;top:774.5px;font-size:28px;color:#222;transform:scaleX(0.9891);transform-origin:0 0;">Sales</div>
<div class="t" style="left:2034.0px;top:778.0px;font-size:25px;font-weight:700;color:#ffffff;transform:scaleX(0.9601);transform-origin:0 0;">MAPPABLE</div>
<div class="t" style="left:329.1px;top:781.4px;font-size:21.5px;color:#fff;transform:scaleX(0.9459);transform-origin:0 0;-webkit-text-stroke:0.25px #fff;">READY</div>
<div class="t" style="left:169.0px;top:910.8px;font-size:28px;color:#3b8ed5;">R1328</div>
<div class="t" style="left:497.0px;top:910.8px;font-size:28px;color:#3b8ed5;">Being Beans</div>
<div class="t" style="left:933.8px;top:910.8px;font-size:28px;color:#222;">Mar 10</div>
<div class="t" style="left:1251.9px;top:910.8px;font-size:28px;color:#222;">$31.25</div>
<div class="t" style="left:1473.4px;top:911.8px;font-size:25px;font-weight:700;color:#2b7155;transform:scaleX(0.9549);transform-origin:0 0;">PAID</div>
<div class="t" style="left:1625.3px;top:908.5px;font-size:28px;color:#222;transform:scaleX(0.9891);transform-origin:0 0;">Sales</div>
<div class="t" style="left:2034.0px;top:912.0px;font-size:25px;font-weight:700;color:#ffffff;transform:scaleX(0.9601);transform-origin:0 0;">MAPPABLE</div>
<div class="t" style="left:329.1px;top:915.4px;font-size:21.5px;color:#fff;transform:scaleX(0.9425);transform-origin:0 0;-webkit-text-stroke:0.25px #fff;">NEW</div>
<div class="t" style="left:169.0px;top:1044.8px;font-size:28px;color:#3b8ed5;">R1329</div>
<div class="t" style="left:499.0px;top:1044.8px;font-size:28px;color:#3b8ed5;">Whole Foods - Pearl</div>
<div class="t" style="left:933.8px;top:1044.8px;font-size:28px;color:#222;">Mar 9</div>
<div class="t" style="left:1236.4px;top:1044.8px;font-size:28px;color:#222;">$536.20</div>
<div class="t" style="left:1473.4px;top:1045.8px;font-size:25px;font-weight:700;color:#2b7155;transform:scaleX(0.9549);transform-origin:0 0;">PAID</div>
<div class="t" style="left:1625.3px;top:1042.5px;font-size:28px;color:#222;transform:scaleX(0.9891);transform-origin:0 0;">Sales</div>
<div class="t" style="left:2034.0px;top:1045.9px;font-size:25px;font-weight:700;color:#ffffff;transform:scaleX(0.9601);transform-origin:0 0;">MAPPABLE</div>
<div class="t" style="left:329.1px;top:1049.4px;font-size:21.5px;color:#fff;transform:scaleX(0.9425);transform-origin:0 0;-webkit-text-stroke:0.25px #fff;">NEW</div>
<div class="t" style="left:169.0px;top:1178.8px;font-size:28px;color:#3b8ed5;">R1330</div>
<div class="t" style="left:499.0px;top:1178.8px;font-size:28px;color:#3b8ed5;">Whole Foods - Beaverton</div>
<div class="t" style="left:933.8px;top:1178.8px;font-size:28px;color:#222;">Mar 7</div>
<div class="t" style="left:1236.4px;top:1178.8px;font-size:28px;color:#222;">$527.90</div>
<div class="t" style="left:1473.4px;top:1179.8px;font-size:25px;font-weight:700;color:#2b7155;transform:scaleX(0.9549);transform-origin:0 0;">PAID</div>
<div class="t" style="left:1625.3px;top:1176.5px;font-size:28px;color:#222;transform:scaleX(0.9891);transform-origin:0 0;">Sales</div>
<div class="t" style="left:2034.0px;top:1179.9px;font-size:25px;font-weight:700;color:#ffffff;transform:scaleX(0.9601);transform-origin:0 0;">MAPPABLE</div>
<div class="t" style="left:329.1px;top:1183.4px;font-size:21.5px;color:#fff;transform:scaleX(0.9425);transform-origin:0 0;-webkit-text-stroke:0.25px #fff;">NEW</div>
<div class="t" style="left:169.0px;top:1312.8px;font-size:28px;color:#3b8ed5;">R1331</div>
<div class="t" style="left:497.0px;top:1312.8px;font-size:28px;color:#3b8ed5;">Desire Coffee</div>
<div class="t" style="left:933.8px;top:1312.8px;font-size:28px;color:#222;">Mar 6</div>
<div class="t" style="left:1236.4px;top:1312.8px;font-size:28px;color:#222;">$893.00</div>
<div class="t" style="left:1473.4px;top:1313.8px;font-size:25px;font-weight:700;color:#2b7155;transform:scaleX(0.9549);transform-origin:0 0;">PAID</div>
<div class="t" style="left:1625.3px;top:1310.5px;font-size:28px;color:#222;transform:scaleX(0.9891);transform-origin:0 0;">Sales</div>
<div class="t" style="left:2034.0px;top:1313.9px;font-size:25px;font-weight:700;color:#ffffff;transform:scaleX(0.9601);transform-origin:0 0;">MAPPABLE</div>
<div class="t" style="left:329.1px;top:1317.4px;font-size:21.5px;color:#fff;transform:scaleX(0.9425);transform-origin:0 0;-webkit-text-stroke:0.25px #fff;">NEW</div>
<div class="t" style="left:169.0px;top:1446.8px;font-size:28px;color:#3b8ed5;">R1332</div>
<div class="t" style="left:499.0px;top:1446.8px;font-size:28px;color:#3b8ed5;">Whole Foods - Tigard</div>
<div class="t" style="left:933.8px;top:1446.8px;font-size:28px;color:#222;">Mar 5</div>
<div class="t" style="left:1236.4px;top:1446.8px;font-size:28px;color:#222;">$817.25</div>
<div class="t" style="left:1473.4px;top:1447.8px;font-size:25px;font-weight:700;color:#2b7155;transform:scaleX(0.9549);transform-origin:0 0;">PAID</div>
<div class="t" style="left:1625.3px;top:1444.5px;font-size:28px;color:#222;transform:scaleX(0.9891);transform-origin:0 0;">Sales</div>
<div class="t" style="left:2034.0px;top:1447.9px;font-size:25px;font-weight:700;color:#ffffff;transform:scaleX(0.9601);transform-origin:0 0;">MAPPABLE</div>
<div class="t" style="left:329.1px;top:1451.4px;font-size:21.5px;color:#fff;transform:scaleX(0.9425);transform-origin:0 0;-webkit-text-stroke:0.25px #fff;">NEW</div>
<div class="t" style="left:169.0px;top:1580.8px;font-size:28px;color:#3b8ed5;">R1333</div>
<div class="t" style="left:497.0px;top:1580.8px;font-size:28px;color:#3b8ed5;">Little Bird's Coffee</div>
<div class="t" style="left:933.8px;top:1580.8px;font-size:28px;color:#222;">Mar 4</div>
<div class="t" style="left:1236.4px;top:1580.8px;font-size:28px;color:#222;">$351.99</div>
<div class="t" style="left:1473.4px;top:1581.8px;font-size:25px;font-weight:700;color:#2b7155;transform:scaleX(0.9549);transform-origin:0 0;">PAID</div>
<div class="t" style="left:1625.3px;top:1578.5px;font-size:28px;color:#222;transform:scaleX(0.9891);transform-origin:0 0;">Sales</div>
<div class="t" style="left:2034.0px;top:1581.9px;font-size:25px;font-weight:700;color:#ffffff;transform:scaleX(0.9601);transform-origin:0 0;">MAPPABLE</div>
<div class="t" style="left:329.1px;top:1585.4px;font-size:21.5px;color:#fff;transform:scaleX(0.9425);transform-origin:0 0;-webkit-text-stroke:0.25px #fff;">NEW</div>
<div class="t" style="left:1860.9px;top:581.8px;font-size:28px;font-weight:700;color:#6b7280;transform:scaleX(1.0336);transform-origin:0 0;">1-50</div>
<div class="t" style="left:1925.8px;top:581.8px;font-size:28px;color:#6b7280;transform:scaleX(1.0633);transform-origin:0 0;">of</div>
<div class="t" style="left:1958.2px;top:581.8px;font-size:28px;font-weight:700;color:#6b7280;transform:scaleX(0.8860);transform-origin:0 0;">71</div>
<div class="t" style="left:2030.9px;top:581.8px;font-size:28px;color:#a1a7b2;transform:scaleX(0.9501);transform-origin:0 0;">Prev</div>
<div class="t" style="left:2133.0px;top:581.8px;font-size:28px;color:#ffffff;">1</div>
<div class="t" style="left:2195.0px;top:581.8px;font-size:28px;color:#5b6270;">2</div>
<div class="t" style="left:2258.6px;top:581.8px;font-size:28px;color:#5b6270;">Next</div>
<div class="t" style="left:1545.5px;top:210.7px;font-size:26px;font-weight:700;color:#fff;">2</div>
<div class="t" style="left:121.0px;top:615.5px;font-size:26px;font-weight:700;color:#fff;">1</div>
<div class="t" style="left:237.3px;top:502.5px;font-size:23.5px;font-weight:700;color:#fff;">5</div>
<div class="a" style="left:1318px;top:290.5px;width:399px;height:618px;background:#fff;border:1.5px solid #bdbdbd;border-radius:8px;box-shadow:0 9px 22px rgba(0,0,0,0.22);"></div>
<div class="a" style="left:1319px;top:476px;width:397px;height:2px;background:#e3e3e3;"></div>
<div class="a" style="left:1319px;top:826px;width:397px;height:2px;background:#e3e3e3;"></div>
<svg class="a" style="left:1550px;top:640px" width="200" height="110" viewBox="1550 640 200 110">
      <defs><filter id="sh" x="-10%" y="-30%" width="120%" height="160%"><feDropShadow dx="0" dy="2" stdDeviation="1.5" flood-opacity="0.12"/></filter></defs>
      <g filter="url(#sh)" fill="none" stroke="#e2454b" stroke-width="6.4" stroke-linecap="round" stroke-linejoin="round">
        <path d="M1725.7 672.5 L1573.5 675.7"/>
        <path d="M1585.8 662.4 L1573.3 675.7 L1586.2 688.6"/>
        <path d="M1725 694 L1622 717.6"/>
        <path d="M1631.3 701.7 L1621.8 717.6 L1637.2 728.1"/>
      </g>
    </svg>
<div class="t" style="left:1360.0px;top:314.4px;font-size:28px;color:#777;">Approve Orders</div>
<div class="t" style="left:1358.0px;top:366.8px;font-size:28px;color:#333;">Update Production Dates</div>
<div class="t" style="left:1358.0px;top:418.8px;font-size:28px;color:#333;">Update Ship Dates</div>
<div class="t" style="left:1358.0px;top:508.6px;font-size:28px;color:#333;">Update Shipping</div>
<div class="t" style="left:1359.0px;top:560.5px;font-size:28px;color:#777;">Create Payments</div>
<div class="t" style="left:1358.0px;top:611.8px;font-size:28px;color:#333;">Email Invoices</div>
<div class="t" style="left:1358.0px;top:664.3px;font-size:28px;color:#333;">Print Invoices</div>
<div class="t" style="left:1358.0px;top:716.4px;font-size:28px;color:#333;">Print Packing Slips</div>
<div class="t" style="left:1358.0px;top:768.1px;font-size:28px;color:#777;">Mark as Shipped</div>
<div class="t" style="left:1359.0px;top:858.1px;font-size:28px;color:#333;">Cancel</div>
</body></html>
